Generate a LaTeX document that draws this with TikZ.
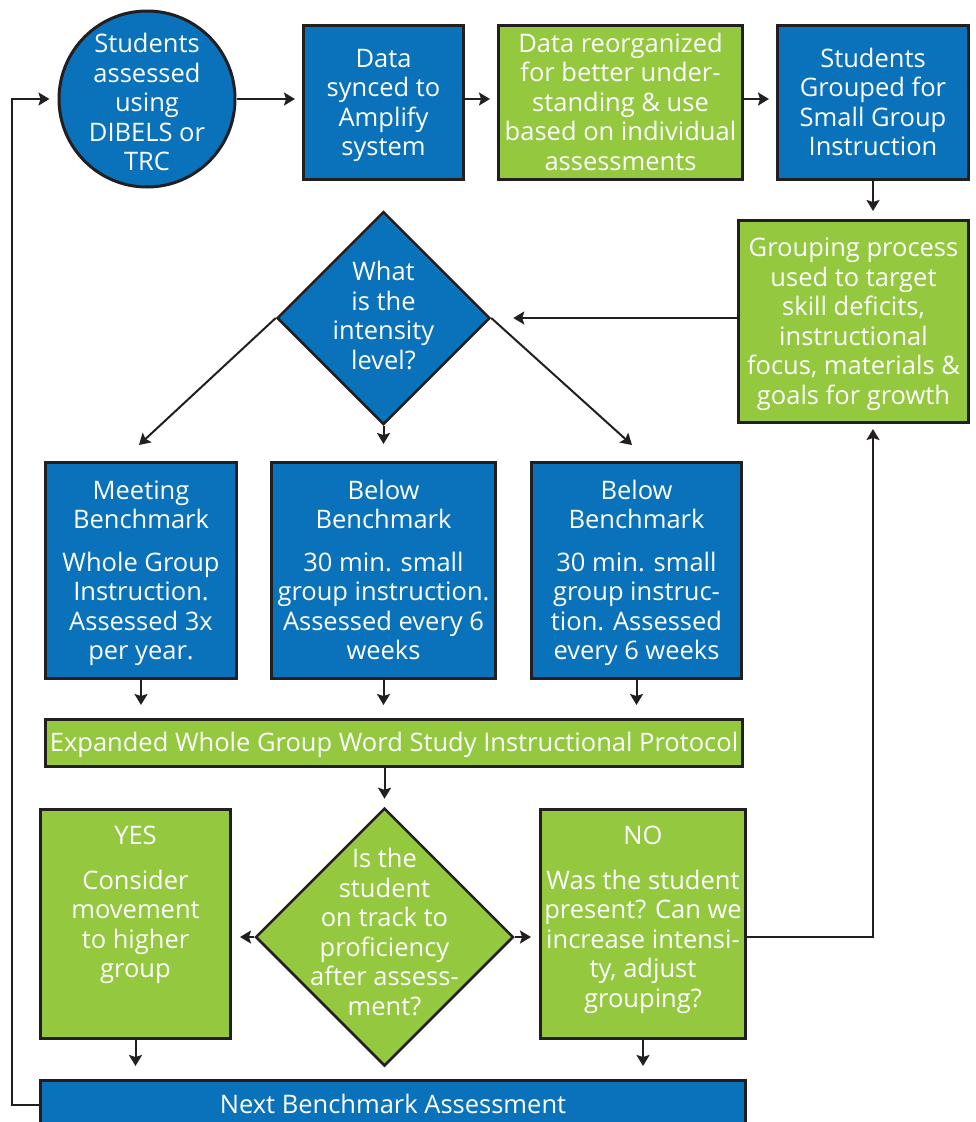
\documentclass[tikz,border=0pt]{standalone}
\usepackage{fontspec}
\setmainfont{Open Sans}
\usetikzlibrary{shapes.geometric,arrows.meta}
\definecolor{bblue}{HTML}{0A72BA}
\definecolor{bgreen}{HTML}{93C83F}
\definecolor{edgecol}{HTML}{231F20}
\newcommand\tsa{\rule{0pt}{23.65pt}}
\newcommand\tsb{\rule[-5.85pt]{0pt}{5.85pt}}
\begin{document}
\begin{tikzpicture}[x=1pt,y=-1pt,
  every node/.style={font=\fontsize{25.5}{29.5}\selectfont, text=white, align=center, inner sep=0pt},
  box/.style={draw=edgecol, line width=3pt, rectangle},
  bluebox/.style={box, fill=bblue},
  greenbox/.style={box, fill=bgreen},
  conn/.style={draw=edgecol, line width=2pt, -{Stealth[length=11pt,width=13pt,inset=2pt]}},
]
\useasboundingbox (0,0) rectangle (976,1122);
\clip (0,0) rectangle (976,1122);
\fill[white] (0,0) rectangle (976,1122);

% top row
\node[circle, draw=edgecol, line width=3pt, fill=bblue, minimum size=176pt] (c1) at (147,99) {};
\node (c1t) at (147,103) {\tsa Students\\assessed\\using\\DIBELS or\\TRC\tsb};
\node[bluebox, minimum width=160pt, minimum height=154pt] (b2) at (383.5,102.5) {\tsa Data\\synced to\\Amplify\\system\tsb};
\node[greenbox, minimum width=244pt, minimum height=154pt] (b3) at (620.5,102.5) {\tsa Data reorganized\\for better under-\\standing \& use\\based on individual\\assessments\tsb};
\node[bluebox, minimum width=191pt, minimum height=154pt] (b4) at (873,102.5) {\tsa Students\\Grouped for\\Small Group\\Instruction\tsb};
\node[greenbox, minimum width=230pt, minimum height=202pt] (grp) at (853.5,321.5) {\tsa Grouping process\\used to target\\skill deficits,\\instructional\\focus, materials \&\\goals for growth\tsb};

% first decision
\node[diamond, draw=edgecol, line width=2.5pt, fill=bblue, minimum width=213pt, minimum height=213pt] (d1) at (383.5,318) {};
\node (d1t) at (383.5,316) {\tsa What\\is the\\intensity\\level?\tsb};

% intensity boxes
\node[bluebox, minimum width=191pt, minimum height=216pt] (m1) at (141,570.5) {\tsa Meeting\\Benchmark\\[13pt]Whole Group\\Instruction.\\Assessed 3x\\per year.\tsb};
\node[bluebox, minimum width=224pt, minimum height=216pt] (m2) at (383.5,570.5) {\tsa Below\\Benchmark\\[13pt]30 min. small\\group instruction.\\Assessed every 6\\weeks\tsb};
\node[bluebox, minimum width=210pt, minimum height=216pt] (m3) at (636.5,570.5) {\tsa Below\\Benchmark\\[13pt]30 min. small\\group instruc-\\tion. Assessed\\every 6 weeks\tsb};

\node[greenbox, minimum width=697pt, minimum height=47pt] (exp) at (394,743) {\tsa Expanded Whole Group Word Study Instructional Protocol\tsb};

% second decision
\node[diamond, draw=edgecol, line width=2.5pt, fill=bgreen, minimum width=258pt, minimum height=258pt] (d2) at (384.5,937) {};
\node (d2t) at (384.5,932.5) {\tsa Is the\\student\\on track to\\proficiency\\after assess-\\ment?\tsb};

\node[greenbox, minimum width=190pt, minimum height=229pt] (yes) at (135.5,924) {};
\node[anchor=north] (yest) at (135.5,821) {\tsa YES\\[15pt]Consider\\movement\\to higher\\group};
\node[greenbox, minimum width=205pt, minimum height=229pt] (no) at (643,924) {};
\node[anchor=north] (not) at (643,821) {\tsa NO\\[15pt]Was the student\\present? Can we\\increase intensi-\\ty, adjust\\grouping?};

\node[bluebox, minimum width=705pt, minimum height=48pt] (bot) at (393,1104.5) {\tsa Next Benchmark Assessment\tsb};

% connectors
\coordinate (t1) at (139,445);
\coordinate (t3) at (632,445);
\coordinate (lp) at (12,1104.5);

\draw[conn, shorten >=7pt] (c1.east) -- (c1.east -| b2.west);
\draw[conn, shorten >=7pt] (b2.east |- c1.east) -- (b3.west |- c1.east);
\draw[conn, shorten >=7pt] (b3.east |- c1.east) -- (b4.west |- c1.east);
\draw[conn, shorten >=8pt] (b4.south) -- (b4.south |- grp.north);
\draw[conn, shorten >=22pt] (grp.west |- d1.east) -- (d1.east);
\draw[conn] (d1.west) -- (t1);
\draw[conn, shorten >=17pt] (d1.south) -- (d1.south |- m2.north);
\draw[conn] (d1.east) -- (t3);
\draw[conn, shorten >=13pt] (m1.south) -- (m1.south |- exp.north);
\draw[conn, shorten >=13pt] (m2.south) -- (m2.south |- exp.north);
\draw[conn, shorten >=13pt] (m3.south) -- (m3.south |- exp.north);
\draw[conn, shorten >=8pt] (d2.north |- exp.south) -- (d2.north);
\draw[conn, shorten >=8pt] (d2.west) -- (yes.east |- d2.west);
\draw[conn, shorten >=8pt] (d2.east) -- (no.west |- d2.east);
\draw[conn, shorten >=5pt] (no.east |- d2.east) -| (b4.center |- grp.south);
\draw[conn, shorten >=13pt] (yes.south) -- (yes.south |- bot.north);
\draw[conn, shorten >=13pt] (no.south) -- (no.south |- bot.north);
\draw[conn, shorten >=8pt] (bot.west) -- (lp) |- (c1.west);
\end{tikzpicture}
\end{document}
